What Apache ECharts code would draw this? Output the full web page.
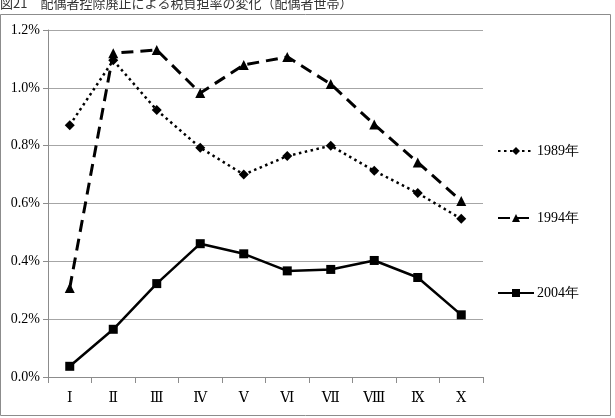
<!DOCTYPE html>
<html><head><meta charset="utf-8">
<script src="https://cdn.jsdelivr.net/npm/echarts@6/dist/echarts.min.js"></script>
<style>html,body{margin:0;padding:0;background:#fff}#c{width:615px;height:418px}</style>
</head><body><div id="c"></div>
<script>
const title = "図21　配偶者控除廃止による税負担率の変化（配偶者世帯）";
const categories = ["Ⅰ","Ⅱ","Ⅲ","Ⅳ","Ⅴ","Ⅵ","Ⅶ","Ⅷ","Ⅸ","Ⅹ"];
const yTicks = [0, 0.2, 0.4, 0.6, 0.8, 1.0, 1.2];
const s1989 = [0.871, 1.095, 0.923, 0.793, 0.700, 0.764, 0.800, 0.713, 0.636, 0.547];
const s1994 = [0.308, 1.120, 1.131, 0.982, 1.079, 1.107, 1.013, 0.873, 0.742, 0.609];
const s2004 = [0.037, 0.165, 0.323, 0.461, 0.426, 0.367, 0.372, 0.403, 0.344, 0.215];
const names = ["1989年","1994年","2004年"];

const serif = "'Liberation Serif','DejaVu Serif',serif";
const chart = echarts.init(document.getElementById('c'), null, {renderer:'canvas'});
function legendAt(name, top){
  return {show:true, data:[name], left:497, top:top, orient:'vertical', itemWidth:36, itemHeight:10,
    textStyle:{fontFamily:serif, fontSize:14, color:'#000', padding:[0,0,0,-2]}, padding:0};
}
chart.setOption({
  animation:false,
  backgroundColor:'#fff',
  graphic:[
    {type:'rect', shape:{x:0.5,y:14.5,width:610,height:401}, style:{fill:'none', stroke:'#8c8c8c', lineWidth:1}, z:-1},
    {type:'text', left:0, top:-3, style:{text:title, fontFamily:"'Noto Sans CJK JP',sans-serif", fontSize:13, fill:'#333'}}
  ],
  grid:{left:48, right:132, top:30, bottom:41},
  legend:[legendAt(names[0],144), legendAt(names[1],211), legendAt(names[2],286)],
  xAxis:{type:'category', data:categories, boundaryGap:true,
    axisLine:{lineStyle:{color:'#8c8c8c'}},
    axisTick:{show:true, length:6, lineStyle:{color:'#8c8c8c'}},
    axisLabel:{fontFamily:serif, fontSize:14, color:'#000', margin:14}},
  yAxis:{type:'value', min:0, max:1.2, interval:0.2,
    axisLine:{show:true, lineStyle:{color:'#8c8c8c'}},
    axisTick:{show:true, length:5, lineStyle:{color:'#8c8c8c'}},
    splitLine:{lineStyle:{color:'#a6a6a6'}},
    axisLabel:{fontFamily:serif, fontSize:14, color:'#000', margin:8,
      formatter:v=>v.toFixed(1)+'%'}},
  series:[
    {name:names[0], type:'line', data:s1989, symbol:'diamond', symbolSize:10,
      lineStyle:{color:'#000', width:2.5, type:[2.5,3.5]}, itemStyle:{color:'#000'}},
    {name:names[1], type:'line', data:s1994, symbol:'triangle', symbolSize:10,
      lineStyle:{color:'#000', width:3, type:[12,7]}, itemStyle:{color:'#000'}},
    {name:names[2], type:'line', data:s2004, symbol:'rect', symbolSize:9,
      lineStyle:{color:'#000', width:2.5}, itemStyle:{color:'#000'}}
  ]
});
</script></body></html>
